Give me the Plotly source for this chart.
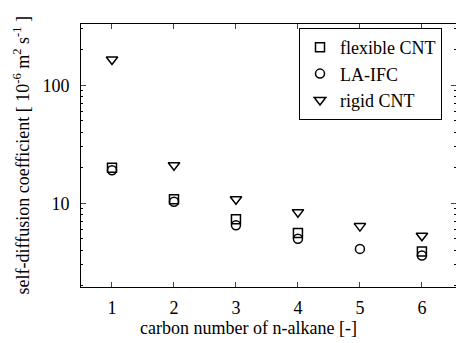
import plotly.graph_objects as go
import numpy as np

carbon = [1, 2, 3, 4, 5, 6]
flex_x = [1, 2, 3, 4, 6]
flexible_cnt = [20.0, 10.8, 7.3, 5.6, 3.9]
la_ifc = [19.0, 10.3, 6.5, 5.0, 4.1, 3.6]
rigid_cnt = [165.0, 21.0, 10.8, 8.4, 6.4, 5.3]

font = "'Liberation Serif', 'DejaVu Serif', 'Times New Roman', Times, serif"
fs = 18

fig = go.Figure()
fig.add_trace(go.Scatter(x=flex_x, y=flexible_cnt, mode="markers", name="flexible CNT",
                         marker=dict(symbol="square-open", size=9, color="black", line=dict(width=1.5))))
fig.add_trace(go.Scatter(x=carbon, y=la_ifc, mode="markers", name="LA-IFC",
                         marker=dict(symbol="circle-open", size=9, color="black", line=dict(width=1.5))))
fig.add_trace(go.Scatter(x=carbon, y=rigid_cnt, mode="markers", name="rigid CNT",
                         marker=dict(symbol="triangle-down-open", size=10, color="black", line=dict(width=1.5))))

minor_vals = [v * m for m in (1, 10, 100) for v in range(2, 10)]

L, R, T, B = 81, 456, 24, 287
W, H = R - L, B - T

fig.update_layout(
    width=456, height=343,
    margin=dict(l=L, r=456 - R, t=T, b=343 - B),
    paper_bgcolor="white", plot_bgcolor="white",
    font=dict(family=font, size=fs, color="black"),
    showlegend=True,
    legend=dict(x=(299 - L) / W, y=1 - (28 - T) / H, xanchor="left", yanchor="top",
                bordercolor="black", borderwidth=1, bgcolor="white",
                font=dict(family=font, size=fs), itemwidth=30, tracegroupgap=0),
    xaxis=dict(range=[0.5, 6.55], tickvals=carbon, ticks="inside", ticklen=5,
               showline=True, linecolor="black", linewidth=1, mirror="ticks",
               showgrid=False, zeroline=False, tickfont=dict(family=font, size=fs),
               ticklabelstandoff=4),
    yaxis=dict(type="log", range=[np.log10(1.95), np.log10(330)], tickvals=[10, 100],
               ticktext=["10", "100"], ticks="inside", ticklen=5,
               showline=True, linecolor="black", linewidth=1, mirror="ticks",
               showgrid=False, zeroline=False, tickfont=dict(family=font, size=fs),
               ticklabelstandoff=7,
               minor=dict(tickmode="array", tickvals=minor_vals, ticks="inside", ticklen=2,
                          tickcolor="black", showgrid=False)),
)

fig.add_annotation(text="carbon number of n-alkane [-]", x=(248 - L) / W, y=-(328 - B) / H,
                   xref="paper", yref="paper", showarrow=False, xanchor="center", yanchor="middle",
                   font=dict(family=font, size=fs))

fig.add_annotation(text="self-diffusion coefficient [ 10<sup>-6</sup> m<sup>2</sup> s<sup>-1</sup> ]",
                   x=-(L - 22) / W, y=0.5, xref="paper", yref="paper", textangle=-90,
                   showarrow=False, xanchor="center", yanchor="middle",
                   font=dict(family=font, size=fs))

fig.write_html("out.html")
